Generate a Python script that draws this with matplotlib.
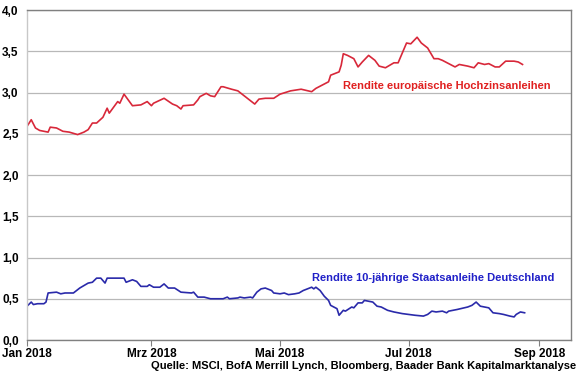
import matplotlib.pyplot as plt
import pandas as pd

# Rendite europäische Hochzinsanleihen (%)
hy_dates = ["2018-01-01", "2018-01-03", "2018-01-05", "2018-01-07", "2018-01-11", "2018-01-12",
            "2018-01-15", "2018-01-18", "2018-01-21", "2018-01-25", "2018-01-28", "2018-01-30",
            "2018-02-01", "2018-02-03", "2018-02-06", "2018-02-08", "2018-02-09", "2018-02-11",
            "2018-02-13", "2018-02-14", "2018-02-16", "2018-02-18", "2018-02-20", "2018-02-24",
            "2018-02-27", "2018-03-01", "2018-03-02", "2018-03-07", "2018-03-11", "2018-03-13",
            "2018-03-15", "2018-03-16", "2018-03-21", "2018-03-23", "2018-03-24", "2018-03-27",
            "2018-03-29", "2018-03-31", "2018-04-03", "2018-04-04", "2018-04-08", "2018-04-11",
            "2018-04-14", "2018-04-19", "2018-04-21", "2018-04-24", "2018-04-28", "2018-05-01",
            "2018-05-06", "2018-05-11", "2018-05-16", "2018-05-18", "2018-05-21", "2018-05-24",
            "2018-05-25", "2018-05-29", "2018-05-30", "2018-05-31", "2018-06-02", "2018-06-05",
            "2018-06-07", "2018-06-09", "2018-06-12", "2018-06-15", "2018-06-17", "2018-06-20",
            "2018-06-22", "2018-06-24", "2018-06-26", "2018-06-28", "2018-06-30", "2018-07-02",
            "2018-07-05", "2018-07-07", "2018-07-10", "2018-07-13", "2018-07-15", "2018-07-17",
            "2018-07-20", "2018-07-23", "2018-07-25", "2018-07-29", "2018-08-01", "2018-08-03",
            "2018-08-06", "2018-08-08", "2018-08-11", "2018-08-13", "2018-08-16", "2018-08-20",
            "2018-08-22", "2018-08-24"]
hy_values = [2.59, 2.67, 2.57, 2.54, 2.52, 2.58,
             2.57, 2.53, 2.52, 2.49, 2.52, 2.55,
             2.63, 2.63, 2.70, 2.81, 2.75, 2.82,
             2.89, 2.87, 2.98, 2.91, 2.84, 2.85,
             2.89, 2.84, 2.87, 2.93, 2.86, 2.84,
             2.80, 2.84, 2.85, 2.91, 2.95, 2.99,
             2.96, 2.95, 3.07, 3.07, 3.04, 3.02,
             2.96, 2.86, 2.92, 2.93, 2.93, 2.98,
             3.02, 3.04, 3.01, 3.05, 3.09, 3.13,
             3.21, 3.25, 3.33, 3.47, 3.45, 3.41,
             3.31, 3.37, 3.45, 3.39, 3.32, 3.30,
             3.33, 3.36, 3.36, 3.48, 3.60, 3.59,
             3.67, 3.60, 3.54, 3.41, 3.41, 3.39,
             3.35, 3.31, 3.34, 3.32, 3.30, 3.36,
             3.34, 3.35, 3.31, 3.31, 3.38, 3.38,
             3.37, 3.34]

# Rendite 10-jährige Staatsanleihe Deutschland (%)
bund_dates = ["2018-01-01", "2018-01-03", "2018-01-04", "2018-01-06", "2018-01-09", "2018-01-10",
              "2018-01-11", "2018-01-15", "2018-01-17", "2018-01-19", "2018-01-23", "2018-01-26",
              "2018-01-30", "2018-02-01", "2018-02-03", "2018-02-05", "2018-02-07", "2018-02-08",
              "2018-02-10", "2018-02-16", "2018-02-17", "2018-02-20", "2018-02-22", "2018-02-24",
              "2018-02-27", "2018-02-28", "2018-03-02", "2018-03-05", "2018-03-07", "2018-03-09",
              "2018-03-12", "2018-03-15", "2018-03-20", "2018-03-21", "2018-03-23", "2018-03-26",
              "2018-03-29", "2018-04-04", "2018-04-06", "2018-04-07", "2018-04-11", "2018-04-12",
              "2018-04-14", "2018-04-17", "2018-04-18", "2018-04-20", "2018-04-22", "2018-04-24",
              "2018-04-27", "2018-04-28", "2018-05-01", "2018-05-03", "2018-05-05", "2018-05-08",
              "2018-05-10", "2018-05-12", "2018-05-16", "2018-05-17", "2018-05-18", "2018-05-20",
              "2018-05-22", "2018-05-24", "2018-05-25", "2018-05-28", "2018-05-29", "2018-05-31",
              "2018-06-01", "2018-06-04", "2018-06-05", "2018-06-07", "2018-06-09", "2018-06-10",
              "2018-06-12", "2018-06-14", "2018-06-16", "2018-06-18", "2018-06-21", "2018-06-24",
              "2018-06-28", "2018-07-01", "2018-07-04", "2018-07-08", "2018-07-10", "2018-07-12",
              "2018-07-14", "2018-07-17", "2018-07-19", "2018-07-20", "2018-07-24", "2018-07-29",
              "2018-07-31", "2018-08-02", "2018-08-04", "2018-08-06", "2018-08-08", "2018-08-10",
              "2018-08-13", "2018-08-15", "2018-08-18", "2018-08-20", "2018-08-21", "2018-08-23",
              "2018-08-25"]
bund_values = [0.41, 0.46, 0.43, 0.44, 0.44, 0.46,
               0.57, 0.58, 0.56, 0.57, 0.57, 0.63,
               0.69, 0.70, 0.75, 0.75, 0.69, 0.75,
               0.75, 0.75, 0.70, 0.73, 0.71, 0.65,
               0.65, 0.67, 0.64, 0.64, 0.68, 0.63,
               0.63, 0.58, 0.57, 0.58, 0.52, 0.52,
               0.50, 0.50, 0.52, 0.50, 0.51, 0.52,
               0.51, 0.52, 0.51, 0.58, 0.62, 0.63,
               0.60, 0.57, 0.56, 0.57, 0.55, 0.56,
               0.57, 0.60, 0.64, 0.62, 0.64, 0.60,
               0.53, 0.48, 0.42, 0.38, 0.30, 0.36,
               0.35, 0.40, 0.39, 0.45, 0.45, 0.48,
               0.47, 0.46, 0.41, 0.40, 0.36, 0.34,
               0.32, 0.31, 0.30, 0.29, 0.31, 0.35,
               0.34, 0.35, 0.33, 0.35, 0.37, 0.40,
               0.42, 0.46, 0.41, 0.40, 0.39, 0.33,
               0.32, 0.31, 0.29, 0.28, 0.31, 0.34,
               0.33]

x_ticks = ["2018-01-01", "2018-03-01", "2018-05-01", "2018-07-01", "2018-09-01"]
x_labels = ["Jan 2018", "Mrz 2018", "Mai 2018", "Jul 2018", "Sep 2018"]
y_ticks = [0.0, 0.5, 1.0, 1.5, 2.0, 2.5, 3.0, 3.5, 4.0]

plt.rcParams['font.family'] = ['Liberation Sans', 'DejaVu Sans']

fig = plt.figure(figsize=(5.8, 3.75), dpi=100)
ax = fig.add_axes([0.0466, 0.0933, 0.9379, 0.88])

ax.plot(pd.to_datetime(hy_dates), hy_values, color='#d8283a', lw=1.2)
ax.plot(pd.to_datetime(bund_dates), bund_values, color='#2a2aaa', lw=1.2)

ax.set_xlim(pd.Timestamp("2018-01-01"), pd.Timestamp("2018-09-16"))
ax.set_ylim(0, 4)
ax.set_yticks(y_ticks)
ax.set_yticklabels([f"{v:.1f}".replace('.', ',') for v in y_ticks], fontsize=8.5, fontweight='bold')
ax.set_xticks(pd.to_datetime(x_ticks))
ax.set_xticklabels(x_labels, fontsize=8.5, fontweight='bold')
ax.tick_params(axis='y', length=0, pad=6)
ax.tick_params(axis='x', length=4, color='#808080', pad=2)

ax.grid(axis='y', color='#b8b8b8', lw=0.9)
ax.set_axisbelow(True)
for s in ax.spines.values():
    s.set_color('#808080')
    s.set_linewidth(1.0)
ax.spines['left'].set_color('#c8c8c8')

ax.text(pd.Timestamp("2018-05-31"), 3.08, "Rendite europäische Hochzinsanleihen",
        color='#e02020', fontsize=8, fontweight='bold', va='center', ha='left')
ax.text(pd.Timestamp("2018-05-16"), 0.75, "Rendite 10-jährige Staatsanleihe Deutschland",
        color='#2020c8', fontsize=8, fontweight='bold', va='center', ha='left')

fig.text(0.993, 0.024, "Quelle: MSCI, BofA Merrill Lynch, Bloomberg, Baader Bank Kapitalmarktanalyse",
         ha='right', va='center', fontsize=8, fontweight='bold')

fig.savefig("out.png", dpi=100)
